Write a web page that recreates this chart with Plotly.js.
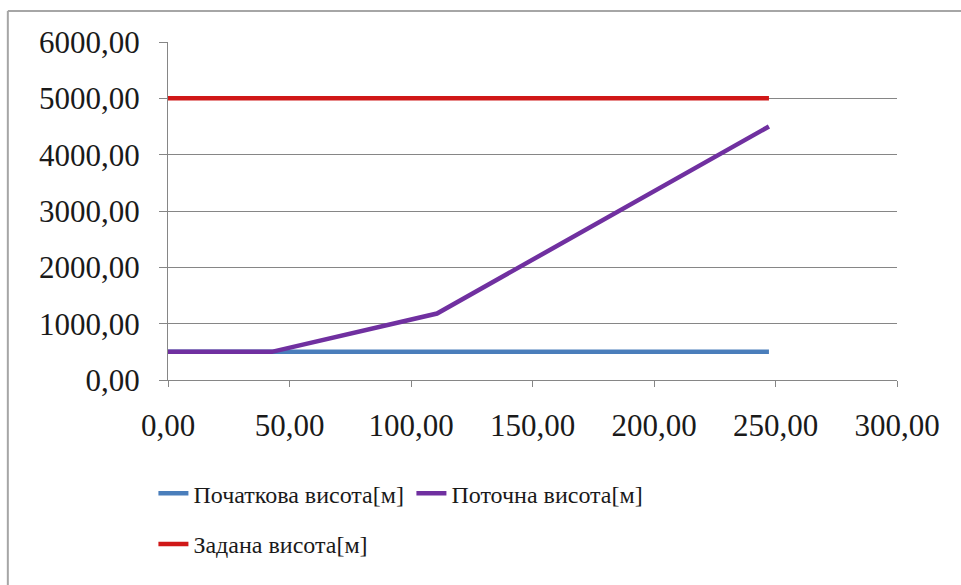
<!DOCTYPE html>
<html>
<head>
<meta charset="utf-8">
<script src="https://cdn.plot.ly/plotly-3.0.1.min.js"></script>
<style>
  html, body { margin: 0; padding: 0; background: #ffffff; }
  #chart { width: 961px; height: 585px; }
</style>
</head>
<body>
<div id="chart"></div>
<script>
// Distance along the route, m
const xInitial = [0, 247.3];
const xCurrent = [0, 42.7, 110.7, 247.3];
const xTarget = [0, 247.3];

// Heights, m
const hInitial = [500, 500];
const hCurrent = [500, 500, 1180, 4500];
const hTarget = [5000, 5000];

const seriesNames = ['Початкова висота[м]', 'Поточна висота[м]', 'Задана висота[м]'];
const xTickVals = [0, 50, 100, 150, 200, 250, 300];
const yTickVals = [0, 1000, 2000, 3000, 4000, 5000, 6000];

const serif = 'Liberation Serif';
const ink = '#1a1a1a';

const traces = [
  { x: xInitial, y: hInitial, name: seriesNames[0], mode: 'lines', legend: 'legend',
    line: { color: '#4a7ebb', width: 4.5 } },
  { x: xCurrent, y: hCurrent, name: seriesNames[1], mode: 'lines', legend: 'legend',
    line: { color: '#7030a0', width: 4.5 } },
  { x: xTarget, y: hTarget, name: seriesNames[2], mode: 'lines', legend: 'legend2',
    line: { color: '#d01818', width: 4.5 } }
];

const legendCommon = {
  orientation: 'h', xanchor: 'left', yanchor: 'top',
  entrywidth: 213, entrywidthmode: 'pixels',
  font: { family: serif, size: 24, color: ink },
  itemwidth: 30, tracegroupgap: 0, bgcolor: 'rgba(0,0,0,0)'
};

const layout = {
  width: 961, height: 585,
  margin: { l: 168, r: 64, t: 42, b: 205 },
  paper_bgcolor: '#ffffff', plot_bgcolor: '#ffffff',
  separators: ', ',
  font: { family: serif, size: 31, color: ink },
  showlegend: true,
  xaxis: {
    range: [0, 300], tickvals: xTickVals, tickformat: '.2f',
    showgrid: false, zeroline: false,
    showline: true, linecolor: '#868686', linewidth: 1,
    ticks: 'outside', ticklen: 6, tickcolor: '#868686',
    ticklabelstandoff: 12,
    tickfont: { family: serif, size: 31, color: ink }
  },
  yaxis: {
    range: [0, 6000], tickvals: yTickVals, tickformat: '.2f',
    showgrid: true, gridcolor: '#868686', gridwidth: 1, zeroline: false,
    showline: true, linecolor: '#868686', linewidth: 1,
    ticks: 'outside', ticklen: 8, tickcolor: '#868686',
    ticklabelstandoff: 13,
    tickfont: { family: serif, size: 31, color: ink }
  },
  legend: Object.assign({ x: -0.02, y: -0.27 }, legendCommon),
  legend2: Object.assign({ x: -0.02, y: -0.42 }, legendCommon),
  shapes: [
    { type: 'line', xref: 'paper', yref: 'paper',
      x0: -0.2197, x1: 1.2, y0: 1.0917, y1: 1.0917,
      line: { color: '#a6a6a6', width: 2 } },
    { type: 'line', xref: 'paper', yref: 'paper',
      x0: -0.2197, x1: -0.2197, y0: 1.0917, y1: -0.8,
      line: { color: '#a6a6a6', width: 2 } }
  ]
};

Plotly.newPlot('chart', traces, layout, { displayModeBar: false, staticPlot: true });
</script>
</body>
</html>
